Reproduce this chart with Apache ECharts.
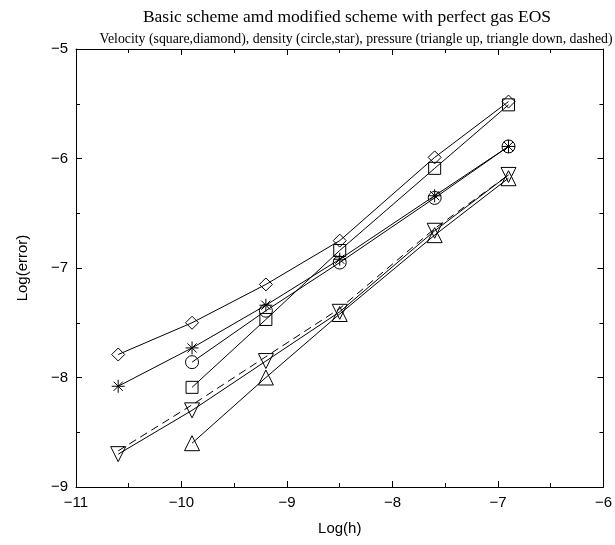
<!DOCTYPE html>
<html>
<head>
<meta charset="utf-8">
<script src="https://cdn.jsdelivr.net/npm/echarts@6/dist/echarts.min.js"></script>
<style>html,body{margin:0;padding:0;background:#fff;}#c{width:615px;height:545px;}</style>
</head>
<body>
<div id="c"></div>
<script>
var logH = [-10.6, -9.9, -9.2, -8.5, -7.6, -6.9];
var velSquare  = [null, -8.09, -7.47, -6.84, -6.09, -5.51];
var velDiamond = [-7.79, -7.50, -7.15, -6.75, -5.99, -5.48];
var denCircle  = [null, -7.86, -7.39, -6.95, -6.36, -5.89];
var denStar    = [-8.08, -7.73, -7.34, -6.92, -6.34, -5.89];
var preTriUp   = [null, -8.60, -8.00, -7.42, -6.70, -6.18];
var preTriDown = [-8.70, -8.30, -7.85, -7.40, -6.66, -6.15];
var preDashed  = [-8.67, -8.25, -7.81, -7.37, -6.64, -6.15];

function pairs(ys){var o=[];for(var i=0;i<logH.length;i++){if(ys[i]!==null)o.push([logH[i],ys[i]]);}return o;}
var starPath = 'path://M0,-10L0,10M-10,0L10,0M-7.07,-7.07L7.07,7.07M-7.07,7.07L7.07,-7.07';
function mk(name, ys, symbol, size, rot, dashed){
  return {
    name:name, type:'line', data:pairs(ys), symbol:symbol, symbolSize:size, symbolRotate:rot||0,
    showSymbol: symbol!=='none',
    lineStyle:{color:'#000', width:1, type: dashed? [8,5] : 'solid'},
    itemStyle:{color:'rgba(0,0,0,0)', borderColor:'#000', borderWidth:1},
    z: 2, animation:false, silent:true
  };
}
var fmt = function(v){return String(v).replace('-', '\u2212');};
var chart = echarts.init(document.getElementById('c'), null, {renderer:'canvas'});
var axCommon = {
  axisLine:{show:true, lineStyle:{color:'#000', width:1}},
  axisTick:{show:true, inside:true, length:6, lineStyle:{color:'#000'}},
  minorTick:{show:true, splitNumber:2, length:4, lineStyle:{color:'#000'}},
  splitLine:{show:false}
};
chart.setOption({
  animation:false,
  title:[
    {text:'Basic scheme amd modified scheme with perfect gas EOS', left:342, top:3, textAlign:'center',
     textStyle:{fontFamily:'Liberation Serif', fontSize:17.5, fontWeight:'normal', color:'#000'}},
    {text:'Velocity (square,diamond), density (circle,star), pressure (triangle up, triangle down, dashed)', left:351, top:27, textAlign:'center',
     textStyle:{fontFamily:'Liberation Serif', fontSize:13.8, fontWeight:'normal', color:'#000'}}
  ],
  grid:{left:76, right:10, top:49, bottom:58},
  xAxis:[
    Object.assign({type:'value', min:-11, max:-6, interval:1, position:'bottom',
      name:'Log(h)', nameLocation:'middle', nameGap:34,
      nameTextStyle:{fontFamily:'Liberation Sans', fontSize:15, color:'#000'},
      axisLabel:{formatter:fmt, fontFamily:'Liberation Sans', fontSize:15, color:'#000', margin:8}}, axCommon),
    Object.assign({type:'value', min:-11, max:-6, interval:1, position:'top', axisLabel:{show:false}}, axCommon)
  ],
  yAxis:[
    Object.assign({type:'value', min:-9, max:-5, interval:1, position:'left',
      name:'Log(error)', nameLocation:'middle', nameGap:46, nameRotate:90,
      nameTextStyle:{fontFamily:'Liberation Sans', fontSize:15, color:'#000'},
      axisLabel:{formatter:fmt, fontFamily:'Liberation Sans', fontSize:15, color:'#000', margin:8}}, axCommon),
    Object.assign({type:'value', min:-9, max:-5, interval:1, position:'right', axisLabel:{show:false}}, axCommon)
  ],
  series:[
    mk('preDashed', preDashed, 'none', 0, 0, true),
    mk('velSquare', velSquare, 'rect', 12),
    mk('velDiamond', velDiamond, 'diamond', 13),
    mk('denCircle', denCircle, 'circle', 13),
    mk('denStar', denStar, starPath, 13),
    mk('preTriUp', preTriUp, 'triangle', 15),
    mk('preTriDown', preTriDown, 'triangle', 15, 180)
  ]
});
</script>
</body>
</html>
